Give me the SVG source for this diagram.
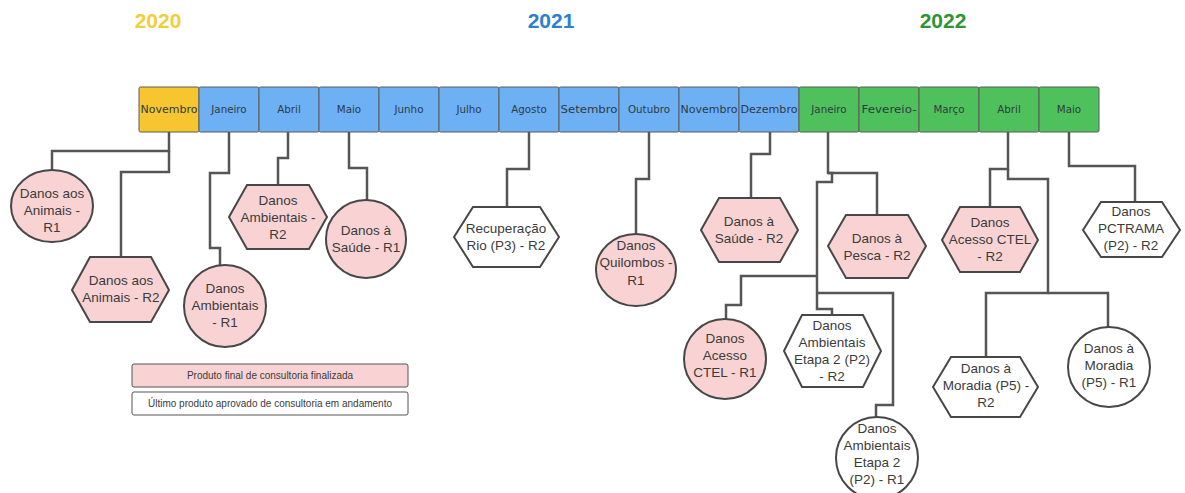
<svg xmlns="http://www.w3.org/2000/svg" width="1185" height="493" viewBox="0 0 1185 493">
<style>
.yr{font-family:"Liberation Sans",Arial,sans-serif;font-weight:bold;font-size:21px;text-anchor:middle}
.m rect{stroke:#5a5a5a;stroke-width:1}
.m text{font-family:"DejaVu Sans",sans-serif;font-size:10.3px;fill:#2f3a44;text-anchor:middle}
.y20{fill:#F7C52F}.y21{fill:#6EB0F4}.y22{fill:#4FC15C}
.node ellipse,.node polygon{stroke:#474747;stroke-width:2}
.pk{fill:#F9D3D3}.wh{fill:#ffffff}
.node text,.lg text{font-family:"Liberation Sans",Arial,sans-serif;font-size:13.5px;fill:#3b3b3b;text-anchor:middle;dominant-baseline:central}
.lg text{font-size:10px}
.lg rect{stroke:#555;stroke-width:1}
#connectors path{fill:none;stroke:#555;stroke-width:2.5}
</style>
<rect width="1185" height="493" fill="#fff"/>
<text class="yr" x="158" y="28" fill="#EFCF3A">2020</text>
<text class="yr" x="551" y="28" fill="#2C80D3">2021</text>
<text class="yr" x="943" y="28" fill="#2E9434">2022</text>

<g id="months" class="m">
<g><rect class="y20" x="139" y="87" width="60" height="45" rx="1.5"/><text x="169" y="113" textLength="57" lengthAdjust="spacingAndGlyphs">Novembro</text></g>
<g><rect class="y21" x="199" y="87" width="60" height="45" rx="1.5"/><text x="229" y="113">Janeiro</text></g>
<g><rect class="y21" x="259" y="87" width="60" height="45" rx="1.5"/><text x="289" y="113">Abril</text></g>
<g><rect class="y21" x="319" y="87" width="60" height="45" rx="1.5"/><text x="349" y="113">Maio</text></g>
<g><rect class="y21" x="379" y="87" width="60" height="45" rx="1.5"/><text x="409" y="113">Junho</text></g>
<g><rect class="y21" x="439" y="87" width="60" height="45" rx="1.5"/><text x="469" y="113">Julho</text></g>
<g><rect class="y21" x="499" y="87" width="60" height="45" rx="1.5"/><text x="529" y="113">Agosto</text></g>
<g><rect class="y21" x="559" y="87" width="60" height="45" rx="1.5"/><text x="589" y="113" textLength="57" lengthAdjust="spacingAndGlyphs">Setembro</text></g>
<g><rect class="y21" x="619" y="87" width="60" height="45" rx="1.5"/><text x="649" y="113">Outubro</text></g>
<g><rect class="y21" x="679" y="87" width="60" height="45" rx="1.5"/><text x="709" y="113" textLength="57" lengthAdjust="spacingAndGlyphs">Novembro</text></g>
<g><rect class="y21" x="739" y="87" width="60" height="45" rx="1.5"/><text x="769" y="113" textLength="57" lengthAdjust="spacingAndGlyphs">Dezembro</text></g>
<g><rect class="y22" x="799" y="87" width="60" height="45" rx="1.5"/><text x="829" y="113">Janeiro</text></g>
<g><rect class="y22" x="859" y="87" width="60" height="45" rx="1.5"/><text x="889" y="113" textLength="55" lengthAdjust="spacingAndGlyphs">Fevereio-</text></g>
<g><rect class="y22" x="919" y="87" width="60" height="45" rx="1.5"/><text x="949" y="113">Março</text></g>
<g><rect class="y22" x="979" y="87" width="60" height="45" rx="1.5"/><text x="1009" y="113">Abril</text></g>
<g><rect class="y22" x="1039" y="87" width="60" height="45" rx="1.5"/><text x="1069" y="113">Maio</text></g>
</g>

<g id="connectors">
<path d="M169,132 V151 H52 V170"/>
<path d="M169,151 V172 H121 V257"/>
<path d="M229,132 V173 H210 V248 H220 V266"/>
<path d="M288,132 V158 H278 V185"/>
<path d="M349,132 V168 H367 V200"/>
<path d="M529,132 V169 H507 V207"/>
<path d="M649,132 V179 H636 V235"/>
<path d="M770,132 V154 H751 V198"/>
<path d="M828,132 V173 H877 V215"/>
<path d="M828,173 H832 V182 H817 V309 H832 V315"/>
<path d="M817,276 H741 V305 H726 V319"/>
<path d="M817,293 H893 V405 H876 V417"/>
<path d="M1008,132 V169 H990 V207"/>
<path d="M1008,169 V179 H1048 V293 H986 V357"/>
<path d="M1048,293 H1108 V327"/>
<path d="M1069,132 V166 H1135 V202"/>
</g>

<g id="n1" class="node"><ellipse class="pk" cx="52" cy="206" rx="41" ry="36"/><text x="52" y="193">Danos aos</text><text x="52" y="210">Animais -</text><text x="52" y="227">R1</text></g>
<g id="n2" class="node"><polygon class="pk" points="72,290 90,257 151,257 169,290 151,322 90,322"/><text x="121" y="280">Danos aos</text><text x="121" y="297">Animais - R2</text></g>
<g id="n3" class="node"><ellipse class="pk" cx="225" cy="306" rx="41" ry="41"/><text x="225" y="288">Danos</text><text x="225" y="305">Ambientais</text><text x="225" y="322">- R1</text></g>
<g id="n4" class="node"><polygon class="pk" points="229,217 247,185 309,185 327,217 309,249 247,249"/><text x="278" y="200">Danos</text><text x="278" y="217">Ambientais -</text><text x="278" y="234">R2</text></g>
<g id="n5" class="node"><ellipse class="pk" cx="366" cy="239" rx="40" ry="39"/><text x="366" y="230">Danos à</text><text x="366" y="247">Saúde - R1</text></g>
<g id="n6" class="node"><polygon class="wh" points="454,237 473,207 540,207 559,237 540,267 473,267"/><text x="506" y="228">Recuperação</text><text x="506" y="245">Rio (P3) - R2</text></g>
<g id="n7" class="node"><ellipse class="pk" cx="636" cy="270" rx="40" ry="36"/><text x="636" y="245">Danos</text><text x="636" y="262">Quilombos -</text><text x="636" y="280">R1</text></g>
<g id="n8" class="node"><polygon class="pk" points="701,230 719,198 780,198 798,230 780,262 719,262"/><text x="749" y="221">Danos à</text><text x="749" y="238">Saúde - R2</text></g>
<g id="n9" class="node"><polygon class="pk" points="828,246 846,215 908,215 926,246 908,278 846,278"/><text x="877" y="238">Danos à</text><text x="877" y="255">Pesca - R2</text></g>
<g id="n10" class="node"><ellipse class="pk" cx="725" cy="359" rx="41" ry="40"/><text x="725" y="338">Danos</text><text x="725" y="355">Acesso</text><text x="725" y="372">CTEL - R1</text></g>
<g id="n11" class="node"><polygon class="wh" points="784,351 802,315 863,315 881,351 863,387 802,387"/><text x="832" y="325">Danos</text><text x="832" y="342">Ambientais</text><text x="832" y="359">Etapa 2 (P2)</text><text x="832" y="376">- R2</text></g>
<g id="n12" class="node"><ellipse class="wh" cx="877" cy="458" rx="41" ry="41"/><text x="877" y="428">Danos</text><text x="877" y="445">Ambientais</text><text x="877" y="462">Etapa 2</text><text x="877" y="479">(P2) - R1</text></g>
<g id="n13" class="node"><polygon class="pk" points="942,240 960,207 1020,207 1038,240 1020,272 960,272"/><text x="990" y="222">Danos</text><text x="990" y="239">Acesso CTEL</text><text x="990" y="256">- R2</text></g>
<g id="n14" class="node"><polygon class="wh" points="1083,230 1101,202 1162,202 1180,230 1162,257 1101,257"/><text x="1131" y="211">Danos</text><text x="1131" y="228">PCTRAMA</text><text x="1131" y="245">(P2) - R2</text></g>
<g id="n15" class="node"><polygon class="wh" points="933,387 951,357 1020,357 1038,387 1020,417 951,417"/><text x="986" y="368">Danos à</text><text x="986" y="385">Moradia (P5) -</text><text x="986" y="402">R2</text></g>
<g id="n16" class="node"><ellipse class="wh" cx="1109" cy="367" rx="41" ry="40"/><text x="1109" y="348">Danos à</text><text x="1109" y="365">Moradia</text><text x="1109" y="382">(P5)  - R1</text></g>

<g id="legend" class="lg">
<rect x="132" y="364" width="276" height="23" rx="2" fill="#F9D3D3"/><text x="270" y="375.5">Produto final de consultoria finalizada</text>
<rect x="132" y="392" width="276" height="23" rx="2" fill="#fff"/><text x="270" y="403.5">Último produto aprovado de consultoria em andamento</text>
</g>
</svg>
